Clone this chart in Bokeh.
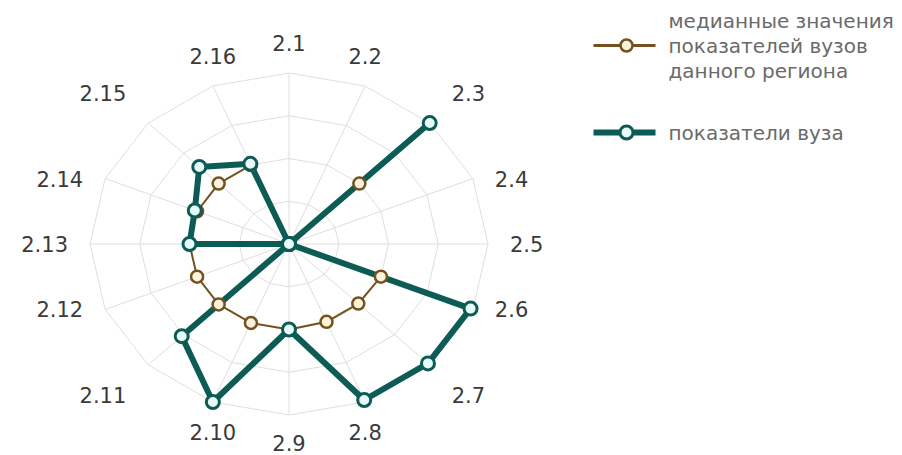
import numpy as np
from bokeh.plotting import figure
from bokeh.models import Range1d
from bokeh.embed import file_html
from bokeh.resources import INLINE
from bokeh.core.properties import value

# ---------------- data ----------------
categories = ["2.1", "2.2", "2.3", "2.4", "2.5", "2.6", "2.7", "2.8",
              "2.9", "2.10", "2.11", "2.12", "2.13", "2.14", "2.15", "2.16"]
median_values = [0, 0, 2, 0, 0, 2, 1.97, 1.97, 2, 2, 2, 2, 2, 2, 2, 2]
univ_values = [0, 0, 4, 0, 0, 3.95, 3.95, 3.95, 2, 4, 3.05, 0, 2, 2.05, 2.55, 2.03]
grid_levels = [1, 2, 3, 4]
median_label = ["медианные значения", "показателей вузов", "данного региона"]
univ_label = ["показатели вуза"]

# ---------------- layout / style ----------------
W, H = 894, 455
CX, CY = 288.5, 243.5      # pixel coords of the pane centre
RX, RY = 199.0, 171.0      # pane radii (picture is stretched horizontally)
VMAX = max(grid_levels)
FONT = value("DejaVu Sans")
TEAL = "#0d5b55"
TEAL_FILL = "#e6fafa"
BROWN = "#74521f"
BROWN_FILL = "#fdf3dc"
GRID = "#dedede"

n = len(categories)
theta = np.arange(n) * 2 * np.pi / n


def to_xy(vals):
    v = np.asarray(vals, dtype=float) / VMAX
    return CX + v * RX * np.sin(theta), CY - v * RY * np.cos(theta)


def closed(a):
    return np.append(a, a[0])


p = figure(width=W, height=H, output_backend="svg", toolbar_location=None,
           x_range=Range1d(0, W), y_range=Range1d(H, 0),
           x_axis_type=None, y_axis_type=None, min_border=0)
p.outline_line_color = None
p.xgrid.visible = False
p.ygrid.visible = False
p.background_fill_color = "white"

# grid rings (polygons) and spokes
for lvl in grid_levels:
    gx, gy = to_xy([lvl] * n)
    p.line(closed(gx), closed(gy), line_color=GRID, line_width=1)
ox, oy = to_xy([VMAX] * n)
p.segment(x0=[CX] * n, y0=[CY] * n, x1=ox, y1=oy, line_color=GRID, line_width=1)

# category labels
s, c = np.sin(theta), np.cos(theta)
lx = ox + np.where(s > 0.5, 22, np.where(s < -0.5, -22, 0))
ly = oy + np.where(c > 0.5, -30, np.where(c < -0.5, 30, 0))
ly = np.minimum(ly, H - 13)
align = np.where(s > 0.5, "left", np.where(s < -0.5, "right", "center"))
for a in ["left", "right", "center"]:
    m = align == a
    p.text(x=lx[m], y=ly[m], text=list(np.array(categories)[m]),
           text_align=a, text_baseline="middle", text_font=FONT,
           text_font_size="21px", text_color="#3a3a3a")

# series
mx, my = to_xy(median_values)
ux, uy = to_xy(univ_values)
p.line(closed(mx), closed(my), line_color=BROWN, line_width=2)
p.line(closed(ux), closed(uy), line_color=TEAL, line_width=6, line_join="round")
p.scatter(mx, my, size=12, fill_color=BROWN_FILL, line_color=BROWN, line_width=2.5)
p.scatter(ux, uy, size=13, fill_color=TEAL_FILL, line_color=TEAL, line_width=3)

# legend (drawn manually)
LX0, LX1, LXM, TX = 593, 655, 626, 668
p.line([LX0, LX1], [45, 45], line_color=BROWN, line_width=3)
p.scatter([LXM], [45], size=12, fill_color=BROWN_FILL, line_color=BROWN, line_width=2.5)
p.text(x=[TX] * len(median_label), y=[20, 45, 70], text=median_label,
       text_align="left", text_baseline="middle", text_font=FONT,
       text_font_size="20px", text_color="#6a6a6a")
p.line([LX0, LX1], [132, 132], line_color=TEAL, line_width=6)
p.scatter([LXM], [132], size=13, fill_color=TEAL_FILL, line_color=TEAL, line_width=3)
p.text(x=[TX], y=[132], text=univ_label,
       text_align="left", text_baseline="middle", text_font=FONT,
       text_font_size="20px", text_color="#6a6a6a")

open("out.html", "w").write(file_html(p, INLINE))
